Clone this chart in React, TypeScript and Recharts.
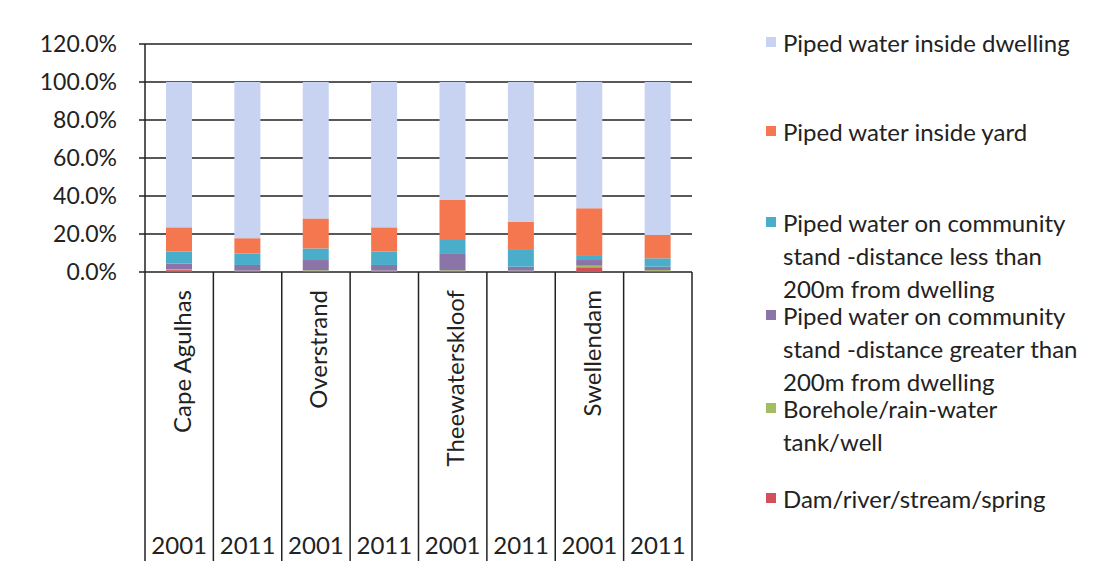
import { BarChart, Bar, XAxis, YAxis, CartesianGrid } from "recharts";

// categories
const municipalities = ["Cape Agulhas", "Overstrand", "Theewaterskloof", "Swellendam"];
const years = ["2001", "2011"];

// series values (% of households), bottom of stack first, one value per municipality/year column
const dam = [1.0, 0.4, 0.5, 0.3, 0.4, 0.4, 2.5, 0.5];
const borehole = [0.5, 0.3, 0.4, 0.4, 0.5, 0.3, 0.8, 0.5];
const standFar = [3.0, 3.0, 5.4, 3.0, 9.0, 2.1, 3.0, 1.8];
const standNear = [6.2, 6.1, 6.1, 7.0, 7.0, 8.8, 2.6, 4.4];
const insideYard = [12.8, 8.0, 15.8, 12.8, 21.0, 14.9, 24.6, 12.3];
const insideDwelling = [76.5, 82.2, 71.8, 76.5, 62.1, 73.5, 66.5, 80.5];

const yTicks = [0, 20, 40, 60, 80, 100, 120];

const series = [
  { key: "dam", label: "Dam/river/stream/spring", color: "#d2505a", values: dam },
  { key: "borehole", label: "Borehole/rain-water\ntank/well", color: "#a3bd62", values: borehole },
  { key: "standFar", label: "Piped water on community\nstand -distance greater than\n200m from dwelling", color: "#8a74a8", values: standFar },
  { key: "standNear", label: "Piped water on community\nstand -distance less than\n200m from dwelling", color: "#4aaecb", values: standNear },
  { key: "insideYard", label: "Piped water inside yard", color: "#f4774f", values: insideYard },
  { key: "insideDwelling", label: "Piped water inside dwelling", color: "#c8d2f1", values: insideDwelling },
];

const data = municipalities.flatMap((m, mi) =>
  years.map((y, yi) => {
    const i = mi * years.length + yi;
    const row: Record<string, any> = { name: m + " " + y, group: yi === 0 ? m : "", year: y };
    series.forEach((s) => (row[s.key] = s.values[i]));
    return row;
  })
);

const W = 1096;
const H = 569;
const plotLeft = 145;
const plotRight = 692;
const plotTop = 44;
const plotBottom = 272;
const band = (plotRight - plotLeft) / data.length;
const font = "Lato, 'Open Sans', sans-serif";

// legend item top positions (first line)
const legendTops = [26, 115, 206, 299, 392, 482];

function CategoryTick(props: any) {
  const { x, payload, index } = props;
  const row = data[index] || {};
  return (
    <g>
      <line x1={x - band / 2} x2={x - band / 2} y1={plotBottom} y2={H} stroke="#222" strokeWidth={1.5} />
      {index === data.length - 1 && (
        <line x1={x + band / 2} x2={x + band / 2} y1={plotBottom} y2={H} stroke="#222" strokeWidth={1.5} />
      )}
      {row.group && (
        <text
          x={x + 2}
          y={290}
          transform={`rotate(-90, ${x + 2}, 290)`}
          textAnchor="end"
          dominantBaseline="central"
          fontSize={24}
          fill="#222"
          fontFamily={font}
        >
          {row.group}
        </text>
      )}
      <text x={x} y={554} textAnchor="middle" fontSize={24} fill="#222" fontFamily={font}>
        {payload && row.year}
      </text>
    </g>
  );
}

export default function App() {
  const legendItems = [...series].reverse();
  return (
    <div style={{ position: "relative", width: W, height: H, background: "#fff", margin: -8 }}>
      <BarChart
        width={W}
        height={H}
        data={data}
        margin={{ top: plotTop, right: W - plotRight, bottom: 0, left: 0 }}
        barCategoryGap={0}
      >
        <CartesianGrid vertical={false} stroke="#222" strokeWidth={1.5} />
        <YAxis
          width={plotLeft}
          domain={[0, 120]}
          ticks={yTicks}
          interval={0}
          tickFormatter={(v: number) => v.toFixed(1) + "%"}
          tick={{ fontSize: 23, fill: "#222", fontFamily: font }}
          tickSize={6}
          tickMargin={22}
          stroke="#222"
          strokeWidth={1.5}
        />
        <XAxis
          dataKey="name"
          height={H - plotBottom}
          interval={0}
          tickLine={false}
          axisLine={false}
          tick={<CategoryTick />}
        />
        {series.map((s) => (
          <Bar
            key={s.key}
            dataKey={s.key}
            name={s.label.replace(/\n/g, " ")}
            stackId="a"
            fill={s.color}
            barSize={26}
            isAnimationActive={false}
          />
        ))}
      </BarChart>

      {/* LEGEND */}
      {legendItems.map((s, i) => (
        <div
          key={s.key}
          style={{
            position: "absolute",
            left: 766,
            top: legendTops[i],
            fontFamily: font,
            fontSize: 24,
            lineHeight: "33px",
            color: "#222",
            whiteSpace: "pre",
          }}
        >
          <span
            style={{
              position: "absolute",
              left: 0,
              top: 11,
              width: 10,
              height: 10,
              background: s.color,
            }}
          />
          <div style={{ marginLeft: 17 }}>{s.label}</div>
        </div>
      ))}
    </div>
  );
}
